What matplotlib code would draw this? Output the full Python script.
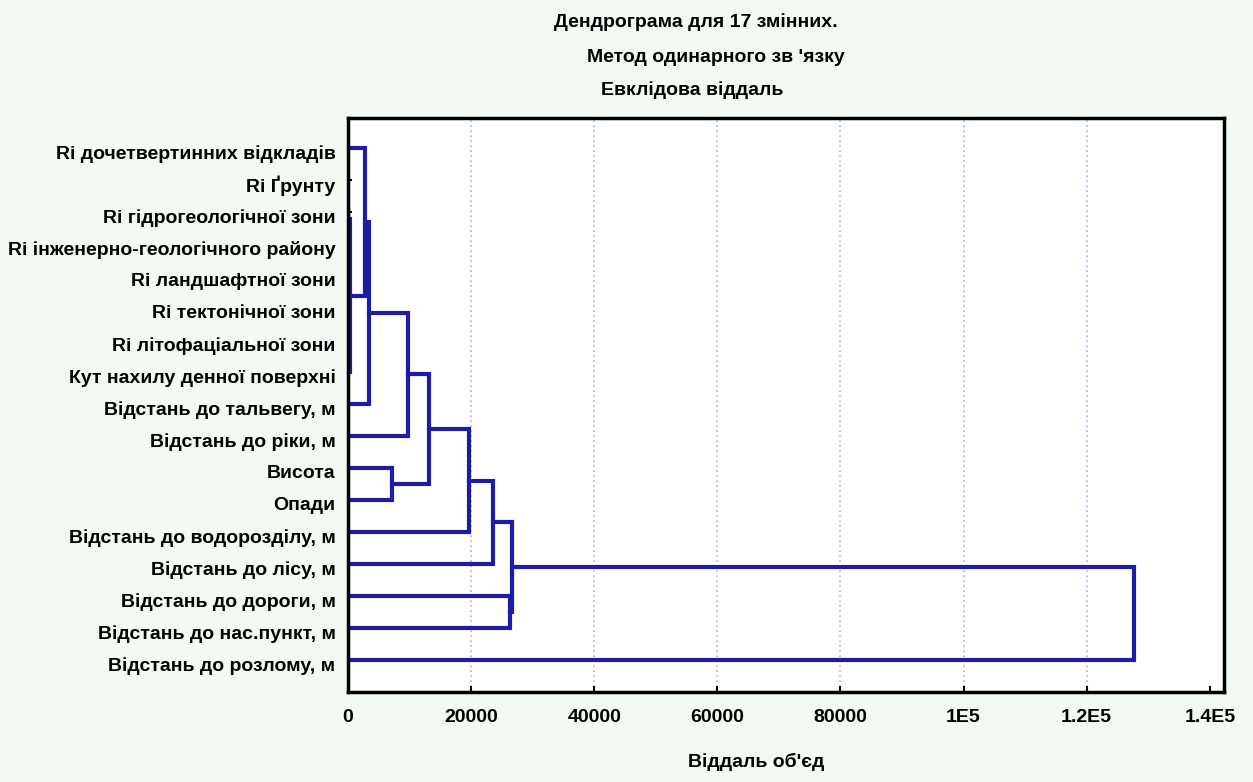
import matplotlib
matplotlib.use('Agg')
import matplotlib.pyplot as plt
from matplotlib.transforms import ScaledTranslation

# ---- data ----
leaf_labels = [
    "Ri дочетвертинних відкладів",
    "Ri Ґрунту",
    "Ri гідрогеологічної зони",
    "Ri інженерно-геологічного району",
    "Ri ландшафтної зони",
    "Ri тектонічної зони",
    "Ri літофаціальної зони",
    "Кут нахилу денної поверхні",
    "Відстань до тальвегу, м",
    "Відстань до ріки, м",
    "Висота",
    "Опади",
    "Відстань до водорозділу, м",
    "Відстань до лісу, м",
    "Відстань до дороги, м",
    "Відстань до нас.пункт, м",
    "Відстань до розлому, м",
]
# merges: child a, child b (leaf index or new node 17+k), linkage distance
merge_a = [4, 3, 18, 2, 1, 21, 0, 23, 24, 10, 25, 27, 28, 14, 29, 31]
merge_b = [5, 17, 6, 19, 20, 7, 22, 8, 9, 11, 26, 12, 13, 15, 30, 16]
merge_h = [0, 0, 0, 0, 0, 300, 2700, 3400, 9700, 7100, 13200, 19700,
           23600, 26300, 26700, 127600]
xticks = [0, 20000, 40000, 60000, 80000, 100000, 120000, 140000]
xtick_labels = ["0", "20000", "40000", "60000", "80000", "1E5", "1.2E5", "1.4E5"]

plt.rcParams['font.family'] = ['Liberation Sans', 'DejaVu Sans']
plt.rcParams['font.weight'] = 'bold'

fig = plt.figure(figsize=(12.53, 7.82), dpi=100, facecolor='#f3faf3')
ax = fig.add_axes([348/1253, 1-692/782, (1224-348)/1253, (692-118)/782])
ax.set_facecolor('white')

n = len(leaf_labels)
pos = {i: float(i) for i in range(n)}
hgt = {i: 0.0 for i in range(n)}
line_color = '#1c1ca6'
for k, (a, b, h) in enumerate(zip(merge_a, merge_b, merge_h)):
    node = n + k
    ax.plot([hgt[a], h, h, hgt[b]], [pos[a], pos[a], pos[b], pos[b]],
            color=line_color, lw=3.0, solid_joinstyle='miter', zorder=2)
    pos[node] = (pos[a] + pos[b]) / 2
    hgt[node] = h

ax.set_xlim(0, 142300)
ax.set_ylim(17.0, -0.9375)
ax.set_xticks(xticks)
ax.set_xticklabels(xtick_labels, fontsize=14, fontweight='bold')
ax.set_yticks(range(n))
ax.set_yticklabels(leaf_labels, fontsize=14, fontweight='bold')
ax.tick_params(axis='x', direction='in', length=4, width=1.5, pad=12)
ax.tick_params(axis='y', direction='in', length=3, width=1.5, pad=9)
off = ScaledTranslation(0, -4/100, fig.dpi_scale_trans)
for lab in ax.get_yticklabels():
    lab.set_transform(lab.get_transform() + off)

for x in xticks[1:-1]:
    ax.axvline(x, color='#a9b3d6', lw=1.2, ls=(0, (1, 2)), zorder=1)

for sp in ax.spines.values():
    sp.set_linewidth(2.5)
    sp.set_color('black')

fig.text(696/1253, 1-22/782, "Дендрограма для 17 змінних.", ha='center', va='center',
         fontsize=14, fontweight='bold')
fig.text(716/1253, 1-57/782, "Метод одинарного зв 'язку", ha='center', va='center',
         fontsize=14, fontweight='bold')
fig.text(692/1253, 1-90/782, "Евклідова віддаль", ha='center', va='center',
         fontsize=14, fontweight='bold')
fig.text(756/1253, 1-762/782, "Віддаль об'єд", ha='center', va='center',
         fontsize=14, fontweight='bold')

fig.savefig('out.png', dpi=100, facecolor=fig.get_facecolor())
